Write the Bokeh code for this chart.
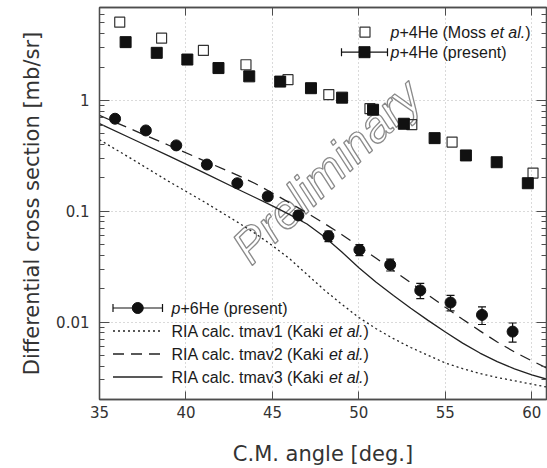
import math
from bokeh.plotting import figure
from bokeh.models import (ColumnDataSource, FixedTicker, LinearAxis, LogAxis, Whisker,
                          TeeHead, CustomJSTickFormatter, Range1d, BoxAnnotation)
from bokeh.core.properties import value
from bokeh.embed import file_html
from bokeh.resources import INLINE

# ---------------- data ----------------
he4_moss_angle = [36.17, 38.59, 41.01, 43.47, 45.90, 48.26, 50.64, 53.06, 55.39, 60.07]
he4_moss_xs = [5.09, 3.65, 2.83, 2.10, 1.54, 1.13, 0.842, 0.604, 0.421, 0.221]

he4_angle = [36.51, 38.31, 40.08, 41.88, 43.66, 45.45, 47.23, 49.03, 50.82, 52.60,
             54.38, 56.19, 57.97, 59.77]
he4_xs = [3.36, 2.69, 2.34, 1.96, 1.65, 1.48, 1.29, 1.06, 0.824, 0.616,
          0.457, 0.319, 0.277, 0.179]

he6_angle = [35.90, 37.68, 39.44, 41.21, 42.97, 44.73, 46.50, 48.24, 50.03, 51.81,
             53.55, 55.30, 57.12, 58.89]
he6_xs = [0.684, 0.536, 0.393, 0.264, 0.179, 0.136, 0.0917, 0.0596, 0.0449, 0.0329,
          0.0193, 0.0150, 0.0116, 0.0082]
he6_err = [0.03, 0.025, 0.02, 0.015, 0.012, 0.011, 0.009, 0.0065, 0.0052, 0.004,
           0.003, 0.0024, 0.0021, 0.0016]

calc_angle = [35, 37, 39, 41, 43, 44, 45, 46, 47, 48, 49, 50, 51, 52, 53, 54, 55,
              56, 57, 58, 59, 60, 61]
tmav1 = [0.442, 0.288, 0.186, 0.123, 0.0794, 0.0631, 0.0490, 0.0372, 0.0269, 0.0195,
         0.0145, 0.0110, 0.00871, 0.00708, 0.00589, 0.00501, 0.00427, 0.00380,
         0.00343, 0.00316, 0.00295, 0.00275, 0.00257]
tmav2 = [0.733, 0.537, 0.394, 0.288, 0.211, 0.178, 0.146, 0.119, 0.0966, 0.0776,
         0.0617, 0.0484, 0.0376, 0.0292, 0.0226, 0.0176, 0.0136, 0.0106, 0.00832,
         0.00661, 0.00537, 0.00447, 0.00376]
tmav3 = [0.617, 0.442, 0.316, 0.224, 0.158, 0.133, 0.112, 0.0933, 0.0767, 0.0589,
         0.0431, 0.0309, 0.0229, 0.0174, 0.0133, 0.01035, 0.00813, 0.00646, 0.00525,
         0.00439, 0.00378, 0.00334, 0.00301]

x_ticks = [35, 40, 45, 50, 55, 60]
y_ticks = [0.01, 0.1, 1]
y_minor = [m * 10.0 ** e for e in (-3, -2, -1, 0) for m in range(2, 10)]

x_label = "C.M. angle [deg.]"
y_label = "Differential cross section [mb/sr]"
watermark = "Preliminary"

# ---------------- layout ----------------
X0, X1 = 35.0, 60.85
Y0, Y1 = 0.002, 6.9
W, H = 547, 468
BL, BR, BT, BB = 99, 1, 7, 69
FL, FR, FT, FB = BL, W - BR, BT, H - BB   # frame in page px

FRAME = "#4d4d4d"
INK = "#111111"
TXT = "#333333"
DOT = "2 3"
DASH = "11 7"


def dx(px):
    return X0 + (px - FL) / (FR - FL) * (X1 - X0)


def dy(py):
    l0, l1 = math.log10(Y0), math.log10(Y1)
    return 10 ** (l1 - (py - FT) / (FB - FT) * (l1 - l0))


p = figure(width=W, height=H, x_range=Range1d(X0, X1), y_range=Range1d(Y0, Y1),
           y_axis_type="log", output_backend="svg", toolbar_location=None,
           min_border_left=BL, min_border_right=BR, min_border_top=BT,
           min_border_bottom=BB)
p.background_fill_color = "white"
p.border_fill_color = "white"
p.outline_line_color = FRAME
p.outline_line_width = 1.3

xt = FixedTicker(ticks=x_ticks, minor_ticks=[])
yt = FixedTicker(ticks=y_ticks, minor_ticks=y_minor)

ax = p.below[0]
ax.ticker = xt
ax.axis_label = x_label
ay = p.left[0]
ay.ticker = yt
ay.formatter = CustomJSTickFormatter(code="return tick.toString();")
ay.axis_label = y_label

for a, tin in ((ax, 8), (ay, 10)):
    a.axis_line_color = FRAME
    a.axis_line_width = 1.3
    a.major_tick_line_color = FRAME
    a.minor_tick_line_color = FRAME
    a.major_tick_in = tin
    a.major_tick_out = 0
    a.minor_tick_in = 5
    a.minor_tick_out = 0
    a.major_label_text_font = "DejaVu Sans"
    a.major_label_text_font_size = "15px"
    a.major_label_text_color = TXT
    a.axis_label_text_font = "DejaVu Sans"
    a.axis_label_text_font_size = "21px"
    a.axis_label_text_font_style = "normal"
    a.axis_label_text_color = TXT
ax.major_label_standoff = 6
ax.axis_label_standoff = 21
ay.major_label_standoff = 10
ay.axis_label_standoff = 9

blank = CustomJSTickFormatter(code="return '';")
ar = LogAxis(ticker=yt, formatter=blank, major_tick_in=10, major_tick_out=0,
             minor_tick_in=5, minor_tick_out=0, major_label_standoff=0,
             axis_line_color=FRAME, axis_line_width=1.3,
             major_tick_line_color=FRAME, minor_tick_line_color=FRAME)
p.add_layout(ar, "right")
at = LinearAxis(ticker=xt, formatter=blank, major_tick_in=8, major_tick_out=0,
                minor_tick_in=0, minor_tick_out=0, major_label_standoff=0,
                axis_line_color=FRAME, axis_line_width=1.3,
                major_tick_line_color=FRAME)
p.add_layout(at, "above")

p.xgrid.ticker = xt
p.ygrid.ticker = yt
for g in (p.xgrid, p.ygrid):
    g.grid_line_color = "#b4b4b4"
    g.grid_line_dash = "1 3"
    g.grid_line_width = 1

# faint outer border of the slide picture
p.add_layout(BoxAnnotation(left=10.5, right=W + 20, top=4.5, bottom=H + 20,
                           left_units="canvas", right_units="canvas",
                           top_units="canvas", bottom_units="canvas",
                           fill_color=None, line_color="#d2d2d2", line_width=1,
                           level="underlay"))

# ---------------- watermark ----------------
p.text(x=[dx(326)], y=[dy(171)], text=[watermark], angle=0.765,
       text_font=value("Liberation Sans"), text_font_size="48px",
       text_font_style="italic", text_align="center", text_baseline="middle",
       text_color="white", text_outline_color="#8a8a8a")

# ---------------- curves ----------------
p.line(calc_angle, tmav1, line_color="#222222", line_width=1.3, line_dash=DOT)
p.line(calc_angle, tmav2, line_color="#222222", line_width=1.3, line_dash=DASH)
p.line(calc_angle, tmav3, line_color="#222222", line_width=1.3)

# ---------------- data points ----------------
p.scatter(he4_moss_angle, he4_moss_xs, marker="square", size=10,
          fill_color=None, line_color="#333333", line_width=1.2)
p.scatter(he4_angle, he4_xs, marker="square", size=11, fill_color=INK, line_color=INK)

src6 = ColumnDataSource(dict(x=he6_angle, y=he6_xs,
                             lo=[v - e for v, e in zip(he6_xs, he6_err)],
                             hi=[v + e for v, e in zip(he6_xs, he6_err)]))
p.add_layout(Whisker(source=src6, base="x", lower="lo", upper="hi",
                     line_color=INK, line_width=1.2,
                     lower_head=TeeHead(size=8, line_color=INK, line_width=1.2),
                     upper_head=TeeHead(size=8, line_color=INK, line_width=1.2)))
p.scatter("x", "y", source=src6, marker="circle", size=11, fill_color=INK, line_color=INK)

# ---------------- legends (drawn by hand for mixed italics) ----------------
ARIAL = {' ': 278, '(': 333, ')': 333, '+': 584, '.': 278, '1': 556, '2': 556,
         '3': 556, '4': 556, '6': 556, 'A': 667, 'H': 722, 'I': 278, 'K': 667,
         'M': 833, 'R': 722, 'a': 556, 'c': 500, 'e': 556, 'i': 222, 'k': 500,
         'l': 222, 'm': 833, 'n': 556, 'o': 556, 'p': 556, 'r': 333, 's': 500,
         't': 278, 'v': 500}
LFS = 16.0


def rich(x_px, y_px, segs):
    x = x_px
    for s, it in segs:
        p.text(x=[dx(x)], y=[dy(y_px)], text=[s], text_font=value("Liberation Sans"),
               text_font_size="%.1fpx" % LFS, text_font_style="italic" if it else "normal",
               text_align="left", text_baseline="middle", text_color="#1a1a1a")
        x += sum(ARIAL.get(ch, 556) for ch in s) / 1000.0 * LFS


def hbar(x0, x1, y, marker, size):
    s = ColumnDataSource(dict(y=[dy(y)], a=[dx(x0)], b=[dx(x1)]))
    p.add_layout(Whisker(source=s, base="y", lower="a", upper="b", dimension="width",
                         line_color=INK, line_width=1.2,
                         lower_head=TeeHead(size=8, line_color=INK, line_width=1.2),
                         upper_head=TeeHead(size=8, line_color=INK, line_width=1.2)))
    p.scatter([dx((x0 + x1) / 2)], [dy(y)], marker=marker, size=size,
              fill_color=INK, line_color=INK)


# top-right legend
p.scatter([dx(364.5)], [dy(31.7)], marker="square", size=10, fill_color=None,
          line_color="#333333", line_width=1.2)
rich(390, 31.7, [("p", True), ("+4He (Moss ", False), ("et al.", True), (")", False)])
hbar(341, 387, 51.7, "square", 11)
rich(390, 51.7, [("p", True), ("+4He (present)", False)])

# bottom-left legend
rows = [307.5, 330.5, 353.5, 376.5]
hbar(112.5, 162, rows[0], "circle", 11)
rich(171, rows[0], [("p", True), ("+6He (present)", False)])
for r, dash, name in ((rows[1], DOT, "tmav1"), (rows[2], DASH, "tmav2"),
                      (rows[3], "solid", "tmav3")):
    p.line([dx(112.5), dx(162)], [dy(r), dy(r)], line_color="#222222",
           line_width=1.3, line_dash=dash)
    rich(171, r, [("RIA calc. %s (Kaki " % name, False), ("et al.", True), (")", False)])

open("out.html", "w").write(file_html(p, INLINE, title="Differential cross section"))
